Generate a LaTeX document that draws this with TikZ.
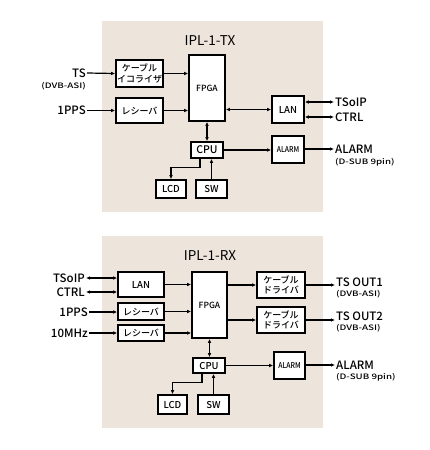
\documentclass[tikz,border=0pt]{standalone}
\usepackage{fontspec}
\setmainfont{Noto Sans CJK JP}[UprightFont=* Medium]
\newfontfamily\regfont{Noto Sans CJK JP}
\usetikzlibrary{arrows.meta}
\definecolor{panelbg}{RGB}{237,229,220}
\newcommand{\wide}[1]{\scalebox{1.3}[1]{#1}}
\begin{document}
\begin{tikzpicture}[x=1pt,y=-1pt,
  box/.style={draw,line width=1.6pt,fill=white,inner sep=0pt,align=center,font=\fontsize{9}{10.5}\selectfont},
  conn/.style={line width=1.2pt,-{Latex[length=4pt,width=3.6pt]}},
  dconn/.style={line width=1.2pt,{Latex[length=4pt,width=3.6pt]}-{Latex[length=4pt,width=3.6pt]}},
  lbl/.style={inner sep=1pt,font=\fontsize{11.5}{12}\selectfont},
  sublbl/.style={inner sep=1pt,font=\fontsize{7.5}{8}\selectfont},
  title/.style={font=\regfont\fontsize{13.5}{14}\selectfont}]
\useasboundingbox (0,0) rectangle (430,450);
% ---------- TX ----------
\fill[panelbg] (102,21) rectangle (323,212);
\node[title] (ttx) at (210,41) {IPL-1-TX};
\node[box,minimum width=47pt,minimum height=27pt] (eq) at (139.5,73.5) {ケーブル\\イコライザ};
\node[box,minimum width=47pt,minimum height=25pt] (rx) at (139.5,110.5) {レシーバ};
\node[box,minimum width=36pt,minimum height=66pt,font=\fontsize{8.5}{9}\selectfont] (fpga) at (207,88) {FPGA};
\node[box,minimum width=32pt,minimum height=27pt,font=\fontsize{9.5}{10}\selectfont] (lan) at (288,109.5) {LAN};
\node[box,minimum width=32pt,minimum height=16pt,font=\fontsize{10.5}{11}\selectfont] (cpu) at (207,150) {CPU};
\node[box,minimum width=32pt,minimum height=27pt,font=\fontsize{8}{8}\selectfont] (alarm) at (288,149.5) {\scalebox{0.85}[1]{ALARM}};
\node[box,minimum width=30pt,minimum height=18pt,font=\fontsize{9.5}{10}\selectfont] (lcd) at (171,189) {LCD};
\node[box,minimum width=31pt,minimum height=18pt,font=\fontsize{9.5}{10}\selectfont] (sw) at (211.5,189) {SW};
\node[lbl,anchor=east] (ts) at (87,73) {TS};
\node[sublbl,anchor=east] (tsd) at (87,86) {\wide{(DVB-ASI)}};
\node[lbl,anchor=east] (pps) at (87,110.5) {1PPS};
\node[lbl,anchor=west] (tsoip) at (334,102) {TSoIP};
\node[lbl,anchor=west] (ctrl) at (334,117) {CTRL};
\node[lbl,anchor=west] (alm) at (334,149) {ALARM};
\node[sublbl,anchor=west] (alms) at (334,162) {\wide{(D-SUB 9pin)}};
\draw[conn] (ts.east) -- (eq.west);
\draw[conn] (pps.east) -- (rx.west);
\draw[conn] (eq.east) -- (eq.east -| fpga.west);
\draw[conn] (rx.east) -- (rx.east -| fpga.west);
\draw[dconn] (lan.west -| fpga.east) -- (lan.west);
\draw[dconn] (lan.east |- tsoip.west) -- (tsoip.west);
\draw[dconn] (lan.east |- ctrl.west) -- (ctrl.west);
\draw[dconn] (fpga.south) -- (fpga.south |- cpu.north);
\draw[conn] (cpu.east) -- (cpu.east -| alarm.west);
\draw[conn] (alarm.east |- alm.west) -- (alm.west);
\draw[conn] ([xshift=-7pt]cpu.south) -- ++(0,9) -| (lcd.north);
\draw[conn] (sw.north) -- (sw.north |- cpu.south);
% ---------- RX ----------
\fill[panelbg] (102,236) rectangle (323,428);
\node[title] (trx) at (210,256) {IPL-1-RX};
\node[box,minimum width=46pt,minimum height=25pt,font=\fontsize{9.5}{10}\selectfont] (lan2) at (141,284.5) {LAN};
\node[box,minimum width=46pt,minimum height=17pt] (rx1) at (141,311.5) {レシーバ};
\node[box,minimum width=46pt,minimum height=16pt] (rx2) at (141,333) {レシーバ};
\node[box,minimum width=35pt,minimum height=66pt,font=\fontsize{8.5}{9}\selectfont] (fpga2) at (209.5,305) {FPGA};
\node[box,minimum width=48pt,minimum height=26pt] (cd1) at (281,285) {ケーブル\\ドライバ};
\node[box,minimum width=48pt,minimum height=26pt] (cd2) at (281,320) {ケーブル\\ドライバ};
\node[box,minimum width=32pt,minimum height=15pt,font=\fontsize{9.5}{10}\selectfont] (cpu2) at (209,365.5) {CPU};
\node[box,minimum width=31pt,minimum height=27pt,font=\fontsize{8}{8}\selectfont] (alarm2) at (289.5,365.5) {\scalebox{0.85}[1]{ALARM}};
\node[box,minimum width=29pt,minimum height=19pt,font=\fontsize{9.5}{10}\selectfont] (lcd2) at (172.5,404.5) {LCD};
\node[box,minimum width=31pt,minimum height=19pt,font=\fontsize{9.5}{10}\selectfont] (sw2) at (213.5,404.5) {SW};
\node[lbl,anchor=east] (tsoip2) at (86,278) {TSoIP};
\node[lbl,anchor=east] (ctrl2) at (86,292) {CTRL};
\node[lbl,anchor=east] (pps2) at (89,312) {1PPS};
\node[lbl,anchor=east] (mhz) at (89,333) {10MHz};
\node[lbl,anchor=west] (out1) at (335,282) {TS OUT1};
\node[sublbl,anchor=west] (out1s) at (335,294) {\wide{(DVB-ASI)}};
\node[lbl,anchor=west] (out2) at (335,316) {TS OUT2};
\node[sublbl,anchor=west] (out2s) at (335,328) {\wide{(DVB-ASI)}};
\node[lbl,anchor=west] (alm2) at (335,365) {ALARM};
\node[sublbl,anchor=west] (alms2) at (335,377) {\wide{(D-SUB 9pin)}};
\draw[dconn] (tsoip2.east) -- (tsoip2.east -| lan2.west);
\draw[dconn] (ctrl2.east) -- (ctrl2.east -| lan2.west);
\draw[conn] (pps2.east) -- (pps2.east -| rx1.west);
\draw[conn] (mhz.east) -- (mhz.east -| rx2.west);
\draw[conn] (lan2.east) -- (lan2.east -| fpga2.west);
\draw[conn] (rx1.east) -- (rx1.east -| fpga2.west);
\draw[conn] (rx2.east) -- (rx2.east -| fpga2.west);
\draw[conn] (cd1.west -| fpga2.east) -- (cd1.west);
\draw[conn] (cd2.west -| fpga2.east) -- (cd2.west);
\draw[conn] (cd1.east) -- (cd1.east -| out1.west);
\draw[conn] (cd2.east) -- (cd2.east -| out2.west);
\draw[dconn] (fpga2.south) -- (fpga2.south |- cpu2.north);
\draw[conn] (cpu2.east) -- (cpu2.east -| alarm2.west);
\draw[conn] (alarm2.east |- alm2.west) -- (alm2.west);
\draw[conn] ([xshift=-7pt]cpu2.south) -- ++(0,9) -| (lcd2.north);
\draw[conn] (sw2.north) -- (sw2.north |- cpu2.south);
\end{tikzpicture}
\end{document}
